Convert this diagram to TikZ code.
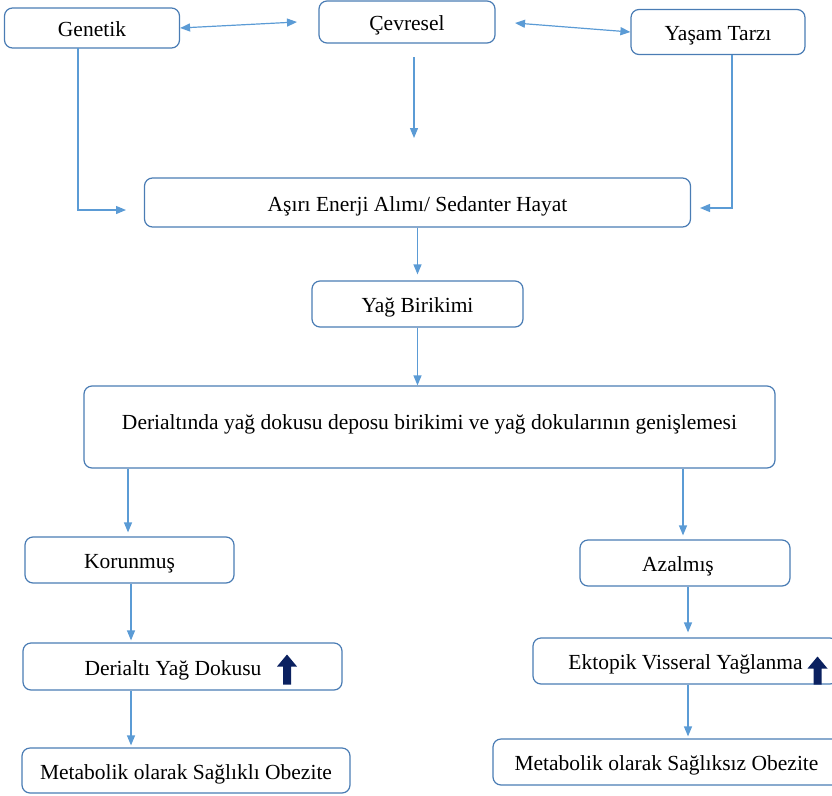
\documentclass[tikz,border=0pt]{standalone}
\usepackage{fontspec}
\setmainfont{Liberation Serif}
\usetikzlibrary{arrows.meta}
\definecolor{boxblue}{HTML}{4A7CB4}
\definecolor{linkblue}{HTML}{5B9BD5}
\definecolor{navy}{HTML}{0B2160}
\begin{document}
\begin{tikzpicture}[x=1pt, y=-1pt,
        box/.style={draw=boxblue, line width=1.2pt, rounded corners=8pt, inner sep=0pt,
            text height=17pt, text depth=0pt, font=\fontsize{21.5}{25}\selectfont},
        conn/.style={draw=linkblue, line width=1.2pt, -{Triangle[length=10pt,width=8pt]}},
        biconn/.style={draw=linkblue, line width=1.2pt, {Triangle[length=10pt,width=8pt]}-{Triangle[length=10pt,width=8pt]}},
        uparrow/.style={fill=navy}]
        \useasboundingbox (0,0) rectangle (832,795);

        \node[box, minimum width=175pt, minimum height=40pt] (genetik) at (92,28) {Genetik};
        \node[box, minimum width=176pt, minimum height=42pt] (cevresel) at (407,22) {Çevresel};
        \node[box, minimum width=174pt, minimum height=45pt] (yasam) at (718,32) {Yaşam Tarzı};
        \node[box, minimum width=546pt, minimum height=49pt] (asiri) at (417.5,202.5) {Aşırı Enerji Alımı/ Sedanter Hayat};
        \node[box, minimum width=211pt, minimum height=46pt] (yag) at (417.5,304) {Yağ Birikimi};
        \node[box, minimum width=691pt, minimum height=82pt, text height=10pt, text depth=6pt] (derialtinda) at (429.5,427) {Derialtında yağ dokusu deposu birikimi ve yağ dokularının genişlemesi};
        \node[box, minimum width=209pt, minimum height=46pt] (korunmus) at (129.5,560) {Korunmuş};
        \node[box, minimum width=210pt, minimum height=46pt] (azalmis) at (685,563) {Azalmış\hspace*{14pt}};
        \node[box, minimum width=319pt, minimum height=47pt] (dyd) at (182.5,666.5) {Derialtı Yağ Dokusu\hspace*{19pt}};
        \node[box, minimum width=305pt, minimum height=46pt] (ektopik) at (685.5,661) {Ektopik Visseral Yağlanma};
        \node[box, minimum width=328pt, minimum height=45pt] (saglikli) at (186,770.5) {Metabolik olarak Sağlıklı Obezite};
        \node[box, minimum width=347pt, minimum height=46pt] (sagliksiz) at (666.5,762) {Metabolik olarak Sağlıksız Obezite};

        \coordinate (cevL) at (297,22);
        \coordinate (cevR) at (515,23);
        \coordinate (genDown) at (78,48);
        \coordinate (genIn) at (126,210);
        \coordinate (cevTop) at (414,57);
        \coordinate (cevBot) at (414,138);
        \coordinate (yasDown) at (732,55);
        \coordinate (yasIn) at (700,208);
        \coordinate (dydUp) at (287,669.5);
        \coordinate (ektUp) at (817.5,670.5);

        \draw[biconn] (genetik.east) -- (cevL);
        \draw[biconn] (cevR) -- (yasam.west);
        \draw[conn] (genDown) |- (genIn);
        \draw[conn] (cevTop) -- (cevBot);
        \draw[conn] (yasDown) |- (yasIn);
        \draw[conn, shorten >=6pt] (asiri.south) -- (yag.north);
        \draw[conn] (yag.south) -- (yag.south |- derialtinda.north);
        \draw[conn, shorten >=4pt] (derialtinda.south -| 128,0) -- (korunmus.north -| 128,0);
        \draw[conn, shorten >=4pt] (derialtinda.south -| 683,0) -- (azalmis.north -| 683,0);
        \draw[conn, shorten >=2pt] (korunmus.south -| 131,0) -- (dyd.north -| 131,0);
        \draw[conn, shorten >=5pt] (azalmis.south -| 688,0) -- (ektopik.north -| 688,0);
        \draw[conn, shorten >=2pt] (dyd.south -| 131,0) -- (saglikli.north -| 131,0);
        \draw[conn, shorten >=2pt] (ektopik.south -| 688,0) -- (sagliksiz.north -| 688,0);

        \fill[uparrow, shift={(dydUp)}] (-4,15) -- (4,15) -- (4,-3) -- (10,-3) -- (0,-15) -- (-10,-3) -- (-4,-3) -- cycle;
        \fill[uparrow, shift={(ektUp)}] (-4,14) -- (4,14) -- (4,-2) -- (10,-2) -- (0,-14) -- (-10,-2) -- (-4,-2) -- cycle;

    \end{tikzpicture}
\end{document}
